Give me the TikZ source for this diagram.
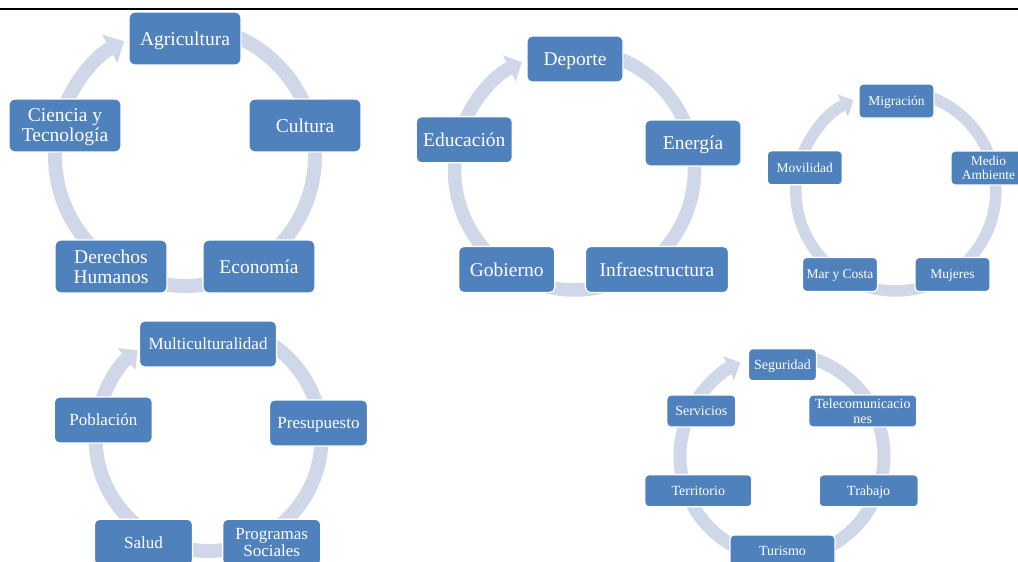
\documentclass[tikz,border=0pt]{standalone}
\usepackage{fontspec}
\setmainfont{Liberation Serif}
\usetikzlibrary{arrows.meta,calc}
\definecolor{boxblue}{HTML}{4F81BD}
\definecolor{ringcol}{RGB}{208,215,232}
\begin{document}
\begin{tikzpicture}[x=1pt,y=-1pt,
  box/.style={draw=white,line width=1.2pt,fill=boxblue,text=white,inner sep=0pt,align=center,text depth=0pt},
  bxA/.style={box,minimum width=112pt,minimum height=53pt,rounded corners=6pt,font=\fontsize{19.5}{20}\selectfont},
  bxB/.style={box,minimum width=96pt,minimum height=46pt,rounded corners=5pt,font=\fontsize{19.5}{20}\selectfont},
  bxC/.style={box,minimum width=75pt,minimum height=34pt,rounded corners=4pt,font=\fontsize{13.5}{14}\selectfont},
  bxD/.style={box,minimum width=98pt,minimum height=46pt,rounded corners=5pt,font=\fontsize{17}{16.7}\selectfont},
  bxE/.style={box,minimum height=32pt,rounded corners=4pt,font=\fontsize{14}{15.3}\selectfont},
  ring/.style={draw=ringcol,line width=#1},
]
\clip (0,0) rectangle (1018,562);
\draw[line width=2pt] (0,8.5) -- (1018,8.5);

% ring centres
\coordinate (c1) at (185,156);
\coordinate (c2) at (574.5,170);
\coordinate (c3) at (895.8,191);
\coordinate (c4) at (208.5,438);
\coordinate (c5) at (782,456);

% diagram 1 ring
\draw[ring=14pt] ($(c1)+(-75:130)$) arc[start angle=-75,end angle=-20,radius=130];
\draw[ring=14pt] ($(c1)+(-5:130)$) arc[start angle=-5,end angle=50,radius=130];
\draw[ring=14pt] ($(c1)+(70:130)$) arc[start angle=70,end angle=110,radius=130];
\draw[ring=14pt] ($(c1)+(115:130)$) arc[start angle=115,end angle=185,radius=130];
\draw[ring=14pt,-{Triangle[width=32pt,length=16pt,line width=0.5pt]}] ($(c1)+(200:130)$) arc[start angle=200,end angle=242,radius=130];

% diagram 2 ring
\draw[ring=13.5pt] ($(c2)+(-70:120)$) arc[start angle=-70,end angle=-18,radius=120];
\draw[ring=13.5pt] ($(c2)+(-5:120)$) arc[start angle=-5,end angle=45,radius=120];
\draw[ring=13.5pt] ($(c2)+(70:120)$) arc[start angle=70,end angle=110,radius=120];
\draw[ring=13.5pt] ($(c2)+(115:120)$) arc[start angle=115,end angle=190,radius=120];
\draw[ring=13.5pt,-{Triangle[width=29pt,length=14pt,line width=0.5pt]}] ($(c2)+(200:120)$) arc[start angle=200,end angle=244,radius=120];

% diagram 3 ring
\draw[ring=11.5pt] ($(c3)+(-72:100)$) arc[start angle=-72,end angle=-18,radius=100];
\draw[ring=11.5pt] ($(c3)+(-8:100)$) arc[start angle=-8,end angle=48,radius=100];
\draw[ring=11.5pt] ($(c3)+(70:100)$) arc[start angle=70,end angle=110,radius=100];
\draw[ring=11.5pt] ($(c3)+(120:100)$) arc[start angle=120,end angle=188,radius=100];
\draw[ring=11.5pt,-{Triangle[width=24pt,length=12pt,line width=0.5pt]}] ($(c3)+(200:100)$) arc[start angle=200,end angle=245,radius=100];

% diagram 4 ring
\draw[ring=14pt] ($(c4)+(-70:113)$) arc[start angle=-70,end angle=-15,radius=113];
\draw[ring=14pt] ($(c4)+(0:113)$) arc[start angle=0,end angle=52,radius=113];
\draw[ring=14pt] ($(c4)+(72:113)$) arc[start angle=72,end angle=108,radius=113];
\draw[ring=14pt] ($(c4)+(115:113)$) arc[start angle=115,end angle=185,radius=113];
\draw[ring=14pt,-{Triangle[width=28pt,length=14pt,line width=0.5pt]}] ($(c4)+(195:113)$) arc[start angle=195,end angle=231,radius=113];

% diagram 5 ring
\draw[ring=13pt] ($(c5)+(-75:102)$) arc[start angle=-75,end angle=-33,radius=102];
\draw[ring=13pt] ($(c5)+(-20:102)$) arc[start angle=-20,end angle=15,radius=102];
\draw[ring=13pt] ($(c5)+(27:102)$) arc[start angle=27,end angle=75,radius=102];
\draw[ring=13pt] ($(c5)+(105:102)$) arc[start angle=105,end angle=153,radius=102];
\draw[ring=13pt] ($(c5)+(165:102)$) arc[start angle=165,end angle=205,radius=102];
\draw[ring=13pt,-{Triangle[width=26pt,length=13pt,line width=0.5pt]}] ($(c5)+(215:102)$) arc[start angle=215,end angle=246,radius=102];

% diagram 1 nodes
\node[bxA] (agr) at (185,38.5) {Agricultura};
\node[bxA] (cul) at (305,125.5) {Cultura};
\node[bxA] (eco) at (259,266.5) {Economía};
\node[bxA] (der) at (111,266.5) {Derechos\\Humanos};
\node[bxA] (cie) at (65,125.5) {Ciencia y\\Tecnología};

% diagram 2 nodes
\node[bxB] (dep) at (575,59) {Deporte};
\node[bxB] (ene) at (693,143) {Energía};
\node[bxB,minimum width=143pt] (inf) at (657,269.5) {Infraestructura};
\node[bxB] (gob) at (506.7,269.5) {Gobierno};
\node[bxB] (edu) at (464.3,139.8) {Educación};

% diagram 3 nodes
\node[bxC] (mig) at (896.5,101) {Migración};
\node[bxC] (med) at (988.5,168) {Medio\\Ambiente};
\node[bxC] (muj) at (952.5,274.5) {Mujeres};
\node[bxC] (mar) at (840,274.5) {Mar y Costa};
\node[bxC] (mov) at (804.8,167.8) {Movilidad};

% diagram 4 nodes
\node[bxD,minimum width=137pt] (mul) at (208,344) {Multiculturalidad};
\node[bxD] (pre) at (318.5,423) {Presupuesto};
\node[bxD] (pro) at (271.7,542.3) {Programas\\Sociales};
\node[bxD] (sal) at (143.5,542.3) {Salud};
\node[bxD] (pob) at (103.3,420) {Población};

% diagram 5 nodes
\node[bxE,minimum width=68pt] (seg) at (782.5,364.8) {Seguridad};
\node[bxE,minimum width=108pt] (tel) at (862.8,411) {Telecomunicacio\\nes};
\node[bxE,minimum width=99pt] (tra) at (868.7,490.8) {Trabajo};
\node[bxE,minimum width=105pt] (tur) at (782.5,551) {Turismo};
\node[bxE,minimum width=107pt] (ter) at (698.3,490.8) {Territorio};
\node[bxE,minimum width=69pt] (ser) at (701.3,411) {Servicios};
\end{tikzpicture}
\end{document}
